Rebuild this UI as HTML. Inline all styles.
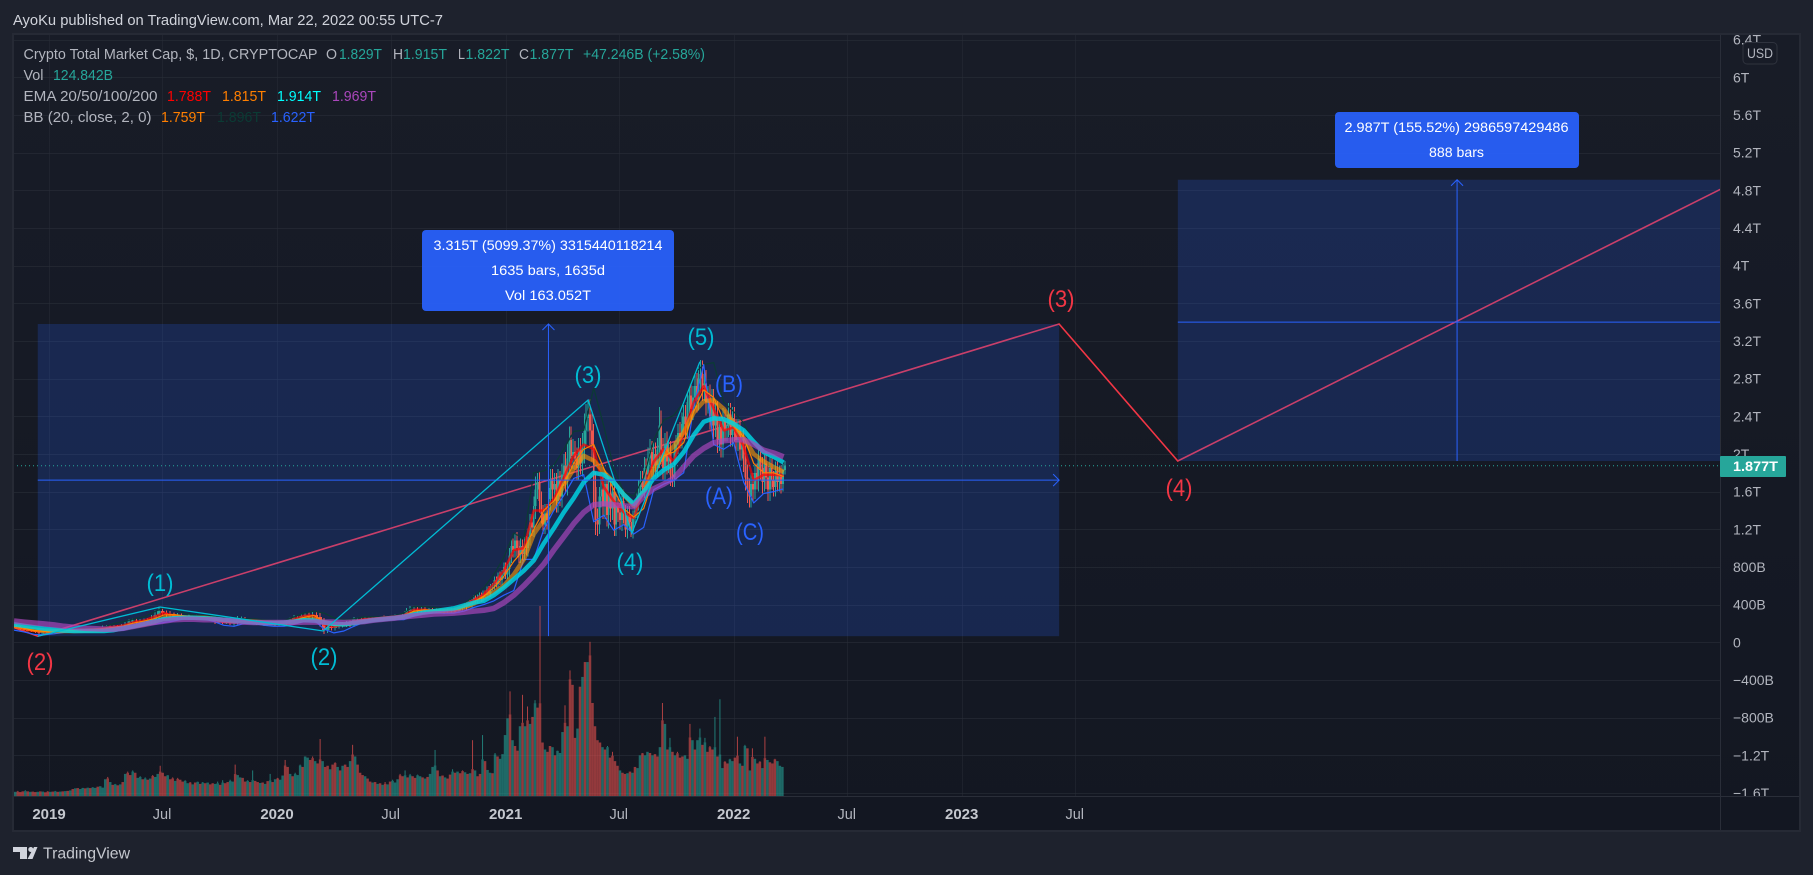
<!DOCTYPE html>
<html lang="en">
<head>
<meta charset="utf-8">
<title>Crypto Total Market Cap chart</title>
<style>
html,body{margin:0;padding:0;width:1813px;height:875px;overflow:hidden;background:#1e222d}
svg{display:block;position:absolute;left:0;top:0}
text{font-family:"Liberation Sans",sans-serif}
</style>
</head>
<body>
<svg id="chart" xmlns="http://www.w3.org/2000/svg" width="1813" height="875" viewBox="0 0 1813 875">
  <defs>
    <linearGradient id="paneBg" x1="0" y1="0" x2="0" y2="1">
      <stop offset="0" stop-color="#181c27"/>
      <stop offset="1" stop-color="#131722"/>
    </linearGradient>
    <clipPath id="paneClip"><rect x="13" y="35" width="1707" height="761"/></clipPath>
    <clipPath id="axisClip"><rect x="1721" y="35" width="78" height="761"/></clipPath>
  </defs>
  <rect x="0" y="0" width="1813" height="875" fill="#1e222d"/>
  <text x="13" y="25" font-size="14.5" fill="#d1d4dc" textLength="430" lengthAdjust="spacingAndGlyphs">AyoKu published on TradingView.com, Mar 22, 2022 00:55 UTC-7</text>
  <rect x="13" y="34" width="1787" height="797" fill="url(#paneBg)"/>
  <g id="gridLayer"></g>
  <g id="underLayer" clip-path="url(#paneClip)"></g>
  <g id="rectLayer" clip-path="url(#paneClip)"></g>
  <g id="volumeLayer" clip-path="url(#paneClip)"></g>
  <g id="candleLayer" clip-path="url(#paneClip)" shape-rendering="crispEdges"></g>
  <g id="lineLayer" clip-path="url(#paneClip)"></g>
  <g id="drawLayer" clip-path="url(#paneClip)"></g>

  <g>
    <rect x="422" y="230" width="252" height="81" rx="4" fill="#2962ff" fill-opacity="0.92"/>
    <text x="548" y="250" font-size="14" fill="#fff" text-anchor="middle" textLength="229" lengthAdjust="spacingAndGlyphs">3.315T (5099.37%) 3315440118214</text>
    <text x="548" y="275" font-size="14" fill="#fff" text-anchor="middle" textLength="114" lengthAdjust="spacingAndGlyphs">1635 bars, 1635d</text>
    <text x="548" y="300" font-size="14" fill="#fff" text-anchor="middle" textLength="86" lengthAdjust="spacingAndGlyphs">Vol 163.052T</text>
  </g>
  <g>
    <rect x="1335" y="112" width="244" height="56" rx="4" fill="#2962ff" fill-opacity="0.92"/>
    <text x="1456.5" y="132" font-size="14" fill="#fff" text-anchor="middle" textLength="224" lengthAdjust="spacingAndGlyphs">2.987T (155.52%) 2986597429486</text>
    <text x="1456.5" y="157" font-size="14" fill="#fff" text-anchor="middle" textLength="55" lengthAdjust="spacingAndGlyphs">888 bars</text>
  </g>

  <g font-size="24" text-anchor="middle">
    <text x="160" y="591" fill="#00bcd4" textLength="27" lengthAdjust="spacingAndGlyphs">(1)</text>
    <text x="324" y="665" fill="#00bcd4" textLength="27" lengthAdjust="spacingAndGlyphs">(2)</text>
    <text x="588" y="383" fill="#00bcd4" textLength="27" lengthAdjust="spacingAndGlyphs">(3)</text>
    <text x="630" y="570" fill="#00bcd4" textLength="27" lengthAdjust="spacingAndGlyphs">(4)</text>
    <text x="701" y="345" fill="#00bcd4" textLength="27" lengthAdjust="spacingAndGlyphs">(5)</text>
    <text x="719" y="504" fill="#2962ff" textLength="28" lengthAdjust="spacingAndGlyphs">(A)</text>
    <text x="729" y="392" fill="#2962ff" textLength="28" lengthAdjust="spacingAndGlyphs">(B)</text>
    <text x="750" y="540" fill="#2962ff" textLength="28" lengthAdjust="spacingAndGlyphs">(C)</text>
    <text x="40" y="670" fill="#f23645" textLength="27" lengthAdjust="spacingAndGlyphs">(2)</text>
    <text x="1061" y="307" fill="#f23645" textLength="27" lengthAdjust="spacingAndGlyphs">(3)</text>
    <text x="1179" y="496" fill="#f23645" textLength="27" lengthAdjust="spacingAndGlyphs">(4)</text>
  </g>

  <g font-size="14.5">
    <text x="23.5" y="59" fill="#b2b5be" textLength="294" lengthAdjust="spacingAndGlyphs">Crypto Total Market Cap, $, 1D, CRYPTOCAP</text>
    <text x="326" y="59" fill="#b2b5be" textLength="11" lengthAdjust="spacingAndGlyphs">O</text>
    <text x="339" y="59" fill="#26a69a" textLength="43" lengthAdjust="spacingAndGlyphs">1.829T</text>
    <text x="393" y="59" fill="#b2b5be" textLength="10" lengthAdjust="spacingAndGlyphs">H</text>
    <text x="403" y="59" fill="#26a69a" textLength="44" lengthAdjust="spacingAndGlyphs">1.915T</text>
    <text x="458" y="59" fill="#b2b5be" textLength="7" lengthAdjust="spacingAndGlyphs">L</text>
    <text x="465.5" y="59" fill="#26a69a" textLength="44" lengthAdjust="spacingAndGlyphs">1.822T</text>
    <text x="519" y="59" fill="#b2b5be" textLength="10" lengthAdjust="spacingAndGlyphs">C</text>
    <text x="529.5" y="59" fill="#26a69a" textLength="44" lengthAdjust="spacingAndGlyphs">1.877T</text>
    <text x="583" y="59" fill="#26a69a" textLength="122" lengthAdjust="spacingAndGlyphs">+47.246B (+2.58%)</text>
    <text x="23.5" y="80" fill="#b2b5be" textLength="20" lengthAdjust="spacingAndGlyphs">Vol</text>
    <text x="53" y="80" fill="#26a69a" textLength="60" lengthAdjust="spacingAndGlyphs">124.842B</text>
    <text x="23.5" y="101" fill="#b2b5be" textLength="134" lengthAdjust="spacingAndGlyphs">EMA 20/50/100/200</text>
    <text x="167" y="101" fill="#ff0000" textLength="44" lengthAdjust="spacingAndGlyphs">1.788T</text>
    <text x="222" y="101" fill="#ff7f00" textLength="44" lengthAdjust="spacingAndGlyphs">1.815T</text>
    <text x="277" y="101" fill="#00ffff" textLength="44" lengthAdjust="spacingAndGlyphs">1.914T</text>
    <text x="332" y="101" fill="#ab47bc" textLength="44" lengthAdjust="spacingAndGlyphs">1.969T</text>
    <text x="23.5" y="122" fill="#b2b5be" textLength="128" lengthAdjust="spacingAndGlyphs">BB (20, close, 2, 0)</text>
    <text x="161" y="122" fill="#ff7f00" textLength="44" lengthAdjust="spacingAndGlyphs">1.759T</text>
    <text x="217" y="122" fill="#0b3b34" textLength="44" lengthAdjust="spacingAndGlyphs">1.896T</text>
    <text x="271" y="122" fill="#2962ff" textLength="44" lengthAdjust="spacingAndGlyphs">1.622T</text>
  </g>

  <line x1="13" y1="465.8" x2="1720" y2="465.8" stroke="#26a69a" stroke-width="1" stroke-dasharray="1 3"/>
  <line x1="1720.5" y1="34" x2="1720.5" y2="831" stroke="#2a2e39" stroke-width="1"/>
  <line x1="13" y1="796.5" x2="1800" y2="796.5" stroke="#2a2e39" stroke-width="1"/>
  <rect x="13" y="34" width="1787" height="797" fill="none" stroke="#262a35" stroke-width="2"/>
  <g id="priceAxis" clip-path="url(#axisClip)"></g>
  <g id="timeAxis"></g>

  <g>
    <rect x="1743" y="42.5" width="34" height="21.5" rx="4" fill="#181c27" stroke="#2f333e"/>
    <text x="1760" y="58" font-size="13.5" fill="#b2b5be" text-anchor="middle" textLength="26" lengthAdjust="spacingAndGlyphs">USD</text>
  </g>
  <g>
    <rect x="1720" y="456" width="66" height="21" rx="1" fill="#26a69a"/>
    <text x="1733" y="471" font-size="14" font-weight="bold" fill="#ffffff" textLength="45" lengthAdjust="spacingAndGlyphs">1.877T</text>
  </g>

  <g>
    <path fill="#d1d4dc" d="M13 847h14v12h-7v-7h-7z"/>
    <circle cx="30.8" cy="849.5" r="2.5" fill="#d1d4dc"/>
    <path fill="#d1d4dc" d="M34 847h3.5l-5 12h-5z"/>
    <text x="43" y="858.5" font-size="16" fill="#c5c8cf" textLength="87" lengthAdjust="spacingAndGlyphs">TradingView</text>
  </g>
</svg>
<script>
// ---- Chart data (prices in trillions USD, volumes in billions USD) ----
const priceTickValues = [6.4,6,5.6,5.2,4.8,4.4,4,3.6,3.2,2.8,2.4,2,1.6,1.2,0.8,0.4,0,-0.4,-0.8,-1.2,-1.6];
const priceTickLabels = ["6.4T","6T","5.6T","5.2T","4.8T","4.4T","4T","3.6T","3.2T","2.8T","2.4T","2T","1.6T","1.2T","800B","400B","0","\u2212400B","\u2212800B","\u22121.2T","\u22121.6T"];
const timeTickDays = [0,181,365,547,731,912,1096,1277,1461,1642];
const timeTickLabels = ["2019","Jul","2020","Jul","2021","Jul","2022","Jul","2023","Jul"];
const timeTickStrong = [1,0,1,0,1,0,1,0,1,0];

const earlyCloses = [
.17,.16,.14,.13,.125,.12,.11,.10,.105,.12,
.115,.12,.125,.12,.125,.13,.125,.13,.13,.135,
.13,.135,.135,.14,.16,.17,.165,.17,.165,.175,
.19,.22,.23,.22,.22,.23,.23,.25,.29,.33,
.31,.30,.29,.27,.28,.27,.26,.27,.26,.27,
.26,.27,.265,.26,.22,.22,.21,.21,.20,.22,
.25,.25,.22,.21,.22,.20,.20,.19,.20,.20,
.19,.20,.20,.22,.24,.26,.26,.28,.29,.28,
.29,.27,.22,.13,.16,.15,.17,.18,.19,.20,
.19,.24,.24,.24,.25,.25,.25,.26,.26,.25,
.26,.26,.27,.27,.28,.33,.35,.35,.34,.35,
.34,.34,.33,.34,.33,.33,.34,.35,.34,.36];
const lateCloses = [
.36,.38,.40,.38,.42,.40,.43,.47,.44,.48,
.50,.46,.52,.50,.56,.52,.58,.60,.66,.62,
.70,.66,.72,.80,.72,.78,.92,1.02,.98,1.08,
1.0,.92,1.02,.94,1.05,1.0,1.12,1.27,1.22,1.45,
1.62,1.70,1.5,1.36,1.25,1.37,1.30,1.52,1.72,1.62,
1.68,1.50,1.72,1.55,1.78,1.88,1.72,1.95,2.15,1.98,
2.02,1.95,1.85,2.05,1.90,2.08,2.25,2.38,2.42,2.25,
2.10,1.65,1.30,1.25,1.55,1.62,1.45,1.68,1.35,1.58,
1.42,1.60,1.25,1.45,1.38,1.30,1.50,1.38,1.20,1.35,
1.28,1.18,1.32,1.40,1.50,1.62,1.72,1.65,1.85,1.78,
1.95,2.02,1.85,2.00,1.88,2.05,2.30,2.05,1.85,2.10,
1.92,2.02,1.78,1.75,2.02,2.10,2.22,2.18,2.32,2.40,
2.28,2.55,2.62,2.48,2.60,2.72,2.58,2.80,2.85,2.70,
2.75,2.55,2.60,2.40,2.55,2.30,2.42,2.15,2.28,2.10,
2.35,2.25,2.30,2.42,2.20,2.38,2.25,2.15,2.25,2.05,
2.12,1.95,1.75,1.62,1.55,1.68,1.62,1.80,1.72,1.95,
1.85,1.70,1.90,1.75,1.62,1.85,1.72,1.65,1.82,1.70,
1.78,1.68,1.83,1.877];
const earlyWicks = [
.012,.012,.012,.012,.012,.012,.012,.012,.012,.012,
.012,.012,.012,.012,.012,.012,.012,.012,.012,.012,
.012,.012,.012,.012,.02,.015,.015,.015,.015,.02,
.025,.03,.025,.03,.025,.025,.03,.04,.05,.05,
.03,.03,.03,.025,.03,.025,.015,.025,.015,.025,
.015,.015,.015,.015,.025,.015,.015,.015,.015,.02,
.03,.025,.02,.015,.015,.015,.015,.015,.015,.015,
.015,.015,.015,.02,.025,.03,.025,.025,.025,.025,
.03,.03,.05,.04,.03,.025,.025,.025,.025,.025,
.03,.03,.025,.025,.025,.015,.025,.015,.015,.025,
.015,.025,.025,.025,.03,.035,.035,.03,.03,.03,
.025,.025,.025,.025,.025,.03,.025,.03,.025,.03];
const lateWicks = [
.02,.02,.02,.03,.02,.03,.03,.03,.03,.03,
.03,.03,.03,.03,.03,.04,.04,.03,.04,.04,
.04,.05,.05,.05,.05,.05,.08,.08,.08,.08,
.09,.08,.08,.07,.07,.08,.09,.09,.09,.10,
.14,.10,.12,.10,.10,.10,.10,.12,.12,.12,
.12,.12,.12,.10,.12,.12,.14,.16,.14,.14,
.14,.12,.12,.12,.12,.14,.18,.15,.14,.16,
.18,.22,.16,.12,.10,.12,.14,.14,.12,.14,
.14,.12,.12,.12,.10,.10,.12,.12,.08,.10,
.10,.06,.08,.08,.08,.10,.10,.10,.12,.10,
.12,.14,.12,.12,.12,.12,.20,.16,.12,.12,
.14,.12,.12,.10,.10,.10,.10,.12,.12,.12,
.12,.12,.12,.12,.12,.12,.14,.12,.15,.14,
.14,.14,.12,.14,.14,.14,.12,.14,.12,.14,
.14,.12,.12,.12,.12,.12,.12,.12,.12,.12,
.12,.14,.14,.14,.12,.12,.12,.10,.10,.12,
.12,.12,.10,.12,.12,.12,.10,.10,.10,.10,
.10,.10,.08,.05];

const volumeValues = [
20,18,22,17,20,25,20,18,19,17,
18,20,19,16,21,18,19,22,18,19,
20,21,22,24,30,33,34,30,35,33,
36,34,38,35,40,42,36,72,82,60,
48,52,46,50,60,95,105,90,110,100,
78,85,72,80,70,75,90,82,95,130,
100,85,90,72,80,65,78,70,62,68,
55,60,50,58,62,52,60,55,58,50,
55,52,62,48,68,55,60,70,62,135,
90,80,78,62,68,60,110,65,60,56,
58,52,64,95,60,72,78,70,88,155,
125,95,85,100,90,135,125,170,165,155,
170,150,140,245,150,125,130,115,135,145,
125,110,130,135,125,150,220,170,135,100,
90,85,75,62,58,60,52,55,48,60,
50,62,70,58,72,95,85,110,80,95,
85,78,92,85,80,75,82,95,125,198,
110,85,88,80,75,92,115,100,105,98,
110,102,95,98,240,110,85,95,262,150,
112,100,98,185,170,160,180,262,334,450,
240,215,195,300,435,300,385,310,340,412,
380,817,230,200,190,215,210,175,195,185,
275,390,300,540,478,250,290,470,512,576,
576,663,400,300,240,230,210,200,215,165,
190,150,130,110,100,95,98,105,100,125,
120,175,185,175,190,185,175,180,170,210,
400,310,200,250,190,175,190,165,170,175,
160,310,240,200,240,290,220,250,190,215,
200,340,170,416,120,150,140,160,150,165,
255,140,130,220,205,110,205,160,140,150,
120,255,155,145,140,160,150,130,125];
const volumeDirections =
"dudddududd"+"ududdududu"+"dudududuud"+"uduuduuudu"+"dudududdud"+"uudududuud"+"dduddudddu"+"ududududud"+"duududduud"+"uuddududdu"+
"dudududuud"+"duduuuduud"+"dudduddudd"+"ududdududd"+"duddududud"+"uduuuddudu"+"dduududuuu"+"dududdudud"+"dudududdud"+"uududuuuud"+
"uddudududu"+"dddudduduu"+"ududddudud"+"udddddudud"+"ddduddudud"+"uuduududdu"+"dudududddu"+"ududuududd"+"duduudduud"+"dududududd"+"ududdduuu";

const ema20 = [
.17,.14,.12,.115,.12,.125,.13,.13,.135,.15,
.165,.18,.215,.23,.27,.31,.285,.27,.265,.265,
.24,.215,.215,.235,.215,.20,.195,.205,.245,.28,
.285,.19,.165,.19,.22,.245,.25,.255,.265,.285,
.345,.345,.335,.335,.345,.39,.45,.51,.62,.76,
.98,1.0,1.4,1.4,1.52,1.75,1.98,2.1,2.05,1.65,
1.5,1.38,1.32,1.62,1.92,2.05,1.92,2.22,2.55,2.72,
2.48,2.25,2.28,2.08,1.72,1.78,1.78,1.77];
const ema50 = [
.175,.155,.135,.125,.12,.12,.12,.122,.125,.13,
.14,.155,.17,.19,.215,.255,.265,.265,.26,.26,
.25,.235,.225,.225,.22,.21,.205,.205,.215,.24,
.245,.215,.195,.19,.205,.225,.24,.25,.26,.27,
.31,.325,.33,.335,.34,.37,.41,.47,.53,.60,
.72,.88,1.15,1.3,1.45,1.67,1.84,1.98,1.93,1.81,
1.70,1.57,1.45,1.60,1.84,1.98,2.08,2.23,2.44,2.56,
2.57,2.48,2.32,2.17,2.0,1.92,1.86,1.81];
const ema100 = [
.19,.175,.16,.145,.135,.125,.12,.12,.12,.12,
.13,.15,.17,.195,.22,.245,.255,.26,.26,.255,
.25,.24,.23,.22,.21,.205,.205,.21,.22,.235,
.23,.21,.195,.19,.205,.22,.235,.245,.255,.27,
.295,.315,.33,.345,.36,.39,.42,.44,.50,.58,
.67,.76,.87,1.05,1.21,1.38,1.53,1.70,1.80,1.78,
1.70,1.57,1.47,1.60,1.74,1.83,1.89,2.02,2.2,2.34,
2.38,2.37,2.32,2.25,2.13,2.02,1.97,1.91];
const ema200 = [
.226,.215,.205,.195,.185,.17,.16,.15,.145,.14,
.14,.15,.17,.19,.21,.225,.24,.245,.245,.24,
.24,.235,.225,.215,.21,.21,.21,.21,.21,.215,
.215,.215,.215,.21,.215,.22,.235,.245,.255,.27,
.28,.29,.30,.305,.31,.32,.33,.34,.36,.42,
.50,.60,.71,.83,.98,1.12,1.26,1.38,1.46,1.47,
1.46,1.45,1.44,1.55,1.63,1.68,1.74,1.86,1.98,2.06,
2.12,2.14,2.15,2.15,2.10,2.04,2.01,1.97];
const bbBasis = [
.17,.15,.125,.115,.115,.125,.13,.13,.13,.14,
.16,.175,.205,.225,.25,.29,.295,.28,.27,.265,
.25,.225,.215,.225,.225,.21,.2,.2,.23,.265,
.285,.225,.18,.18,.21,.235,.25,.255,.26,.275,
.33,.345,.34,.335,.34,.37,.43,.49,.58,.70,
.86,.98,1.2,1.4,1.5,1.68,1.9,2.05,2.1,1.85,
1.62,1.42,1.33,1.42,1.75,1.98,2.02,2.12,2.45,2.68,
2.6,2.35,2.3,2.18,1.9,1.8,1.8,1.76];
const bbUpper = [
.21,.19,.16,.14,.14,.14,.14,.14,.145,.16,
.20,.22,.25,.27,.32,.37,.36,.31,.29,.28,
.28,.27,.26,.25,.25,.24,.23,.23,.27,.31,
.33,.31,.26,.24,.25,.27,.27,.27,.28,.31,
.38,.38,.37,.36,.37,.41,.49,.58,.72,.90,
1.16,1.10,1.80,1.82,1.88,2.05,2.24,2.25,2.70,2.30,
1.85,1.60,1.55,1.75,2.15,2.36,2.41,2.55,2.85,2.95,
2.97,2.55,2.45,2.33,2.1,2.0,1.97,1.90];
const bbLower = [
.13,.11,.085,.08,.09,.105,.115,.12,.12,.12,
.125,.13,.16,.18,.19,.21,.225,.25,.25,.25,
.22,.18,.17,.20,.20,.18,.17,.17,.19,.22,
.24,.14,.10,.12,.17,.21,.23,.24,.24,.24,
.28,.31,.31,.31,.31,.33,.37,.40,.44,.50,
.55,.88,.88,1.2,1.40,1.56,1.74,1.78,1.28,1.35,
1.19,1.25,1.15,1.22,1.62,1.68,1.72,1.8,2.5,2.95,
2.1,2.05,2.12,1.7,1.48,1.58,1.6,1.63];

// Elliott wave drawings: day offset from 2019-01-01 and price in trillions
const cyanWaveDays = [-18,178,439,863,933,1042];
const cyanWavePrices = [.065,.375,.12,2.573,1.16,2.98];
const redWaveDays = [-58,-18,1617,1807,2695];
const redWavePrices = [.16,.065,3.38,1.925,4.875];
const measureStartDays = [-18,1807];
const measureEndDays = [1617,2695];
const measureLowPrices = [.065,1.925];
const measureHighPrices = [3.38,4.912];
const measureMidDays = [799.5,2254];
const measureMidPrices = [1.7225,3.4];

// ---- Axis functions ----
const xOf = d => 49 + d * 0.6247;
const yOf = p => 642.3 - p * 94.17;
const yVol = v => 796 - v / 4.3;
const ns = "http://www.w3.org/2000/svg";
function make(parent, tag, attrs) {
  const el = document.createElementNS(ns, tag);
  for (const k in attrs) el.setAttribute(k, attrs[k]);
  parent.appendChild(el);
  return el;
}
const gridLayer = document.getElementById('gridLayer');
const underLayer = document.getElementById('underLayer');
const rectLayer = document.getElementById('rectLayer');
const volumeLayer = document.getElementById('volumeLayer');
const candleLayer = document.getElementById('candleLayer');
const lineLayer = document.getElementById('lineLayer');
const drawLayer = document.getElementById('drawLayer');
const priceAxis = document.getElementById('priceAxis');
const timeAxis = document.getElementById('timeAxis');

// Grid and axis labels
priceTickValues.forEach((v, i) => {
  const y = Math.round(yOf(v)) + 0.5;
  if (y > 35 && y < 796) {
    const g = make(gridLayer, 'line', {x1:13, x2:1720, y1:y, y2:y, stroke:'#2a2e39', 'stroke-opacity':0.6});
    
    
  }
  const t = make(priceAxis, 'text', {x:1733, y:yOf(v)+5, 'font-size':14, fill:'#b2b5be'});
  
  
  t.textContent = priceTickLabels[i];
});
timeTickDays.forEach((d, i) => {
  const x = Math.round(xOf(d)) + 0.5;
  const g = make(gridLayer, 'line', {x1:x, x2:x, y1:35, y2:796, stroke:'#2a2e39', 'stroke-opacity':0.45});
  
  
  const strong = timeTickStrong[i] === 1;
  const t = make(timeAxis, 'text', {x:xOf(d), y:819, 'font-size':strong ? 15 : 14.5, fill:strong ? '#c5c8cf' : '#b2b5be', 'text-anchor':'middle', 'font-weight':strong ? 'bold' : 'normal'});
  
  
  t.textContent = timeTickLabels[i];
});

// Forecast zigzag sits under the translucent measure rectangles
const polyPoints = (days, prices) => days.map((d, i) => xOf(d).toFixed(1) + ',' + yOf(prices[i]).toFixed(1)).join(' ');
const redLine = make(underLayer, 'polyline', {points:polyPoints(redWaveDays, redWavePrices), fill:'none', stroke:'#f23645', 'stroke-width':1.6});



// Measure rectangles with centre arrows
measureStartDays.forEach((d0, i) => {
  const d1 = measureEndDays[i], lo = measureLowPrices[i], hi = measureHighPrices[i];
  const r = make(rectLayer, 'rect', {x:xOf(d0), y:yOf(hi), width:xOf(d1)-xOf(d0), height:yOf(lo)-yOf(hi), fill:'#2962ff', 'fill-opacity':0.2});
  
  
  const xm = xOf(measureMidDays[i]), ym = yOf(measureMidPrices[i]);
  const h = make(drawLayer, 'line', {x1:xOf(d0), x2:xOf(d1), y1:ym, y2:ym, stroke:'#2962ff', 'stroke-width':1});
  
  
  const v = make(drawLayer, 'line', {x1:xm, x2:xm, y1:yOf(lo), y2:yOf(hi), stroke:'#2962ff', 'stroke-width':1});
  
  
  const a = make(drawLayer, 'polyline', {points:(xm-6)+','+(yOf(hi)+6)+' '+xm+','+yOf(hi)+' '+(xm+6)+','+(yOf(hi)+6), fill:'none', stroke:'#2962ff', 'stroke-width':1});
  
  
  const b = make(drawLayer, 'polyline', {points:(xOf(d1)-6)+','+(ym-6)+' '+xOf(d1)+','+ym+' '+(xOf(d1)-6)+','+(ym+6), fill:'none', stroke:'#2962ff', 'stroke-width':1});
  
  
});

// Volume bars, one per four trading days: a solid body plus a thin spike where the value towers over its neighbours
volumeValues.forEach((v, i) => {
  const day = -58 + 4 * i;
  const up = volumeDirections[i] === 'u';
  const col = up ? '#26a69a' : '#ef5350';
  const prev = i > 0 ? volumeValues[i-1] : v;
  const next = i < volumeValues.length - 1 ? volumeValues[i+1] : v;
  const body = Math.min(v, Math.max(prev, next) * 1.05);
  const yBody = yVol(body);
  const r = make(volumeLayer, 'rect', {x:xOf(day)-1.25, y:yBody, width:2.5, height:796-yBody, fill:col, 'fill-opacity':0.58});
  
  
  if (v > body) {
    const s = make(volumeLayer, 'rect', {x:xOf(day)-0.5, y:yVol(v), width:1, height:yBody-yVol(v), fill:col, 'fill-opacity':0.7});
    
    
  }
});

// Candles: early history every six days, recent history every three days
function drawCandle(day, open, close, wick, w) {
  const up = close >= open;
  const col = up ? '#26a69a' : '#f0574f';
  const x = xOf(day);
  const hi = Math.max(open, close) + wick, lo = Math.min(open, close) - wick;
  const l = make(candleLayer, 'line', {x1:x, x2:x, y1:yOf(hi), y2:yOf(lo), stroke:col, 'stroke-width':1});
  
  
  const top = yOf(Math.max(open, close));
  const r = make(candleLayer, 'rect', {x:x-w/2, y:top, width:w, height:Math.max(1, yOf(Math.min(open, close))-top), fill:col});
  
  
}
let prevClose = earlyCloses[0];
earlyCloses.forEach((c, i) => {
  drawCandle(-58 + 6 * i, prevClose, c, earlyWicks[i], 3.4);
  prevClose = c;
});
lateCloses.forEach((c, i) => {
  drawCandle(659 + 3 * i, prevClose, c, lateWicks[i], 1.9);
  prevClose = c;
});

// Indicator lines sampled every sixteen days
const sampleDay = k => -56 + 16 * k;
function linePoints(values) {
  return values.map((p, k) => xOf(sampleDay(k)).toFixed(1) + ',' + yOf(p).toFixed(1)).join(' ');
}
const upperLine = make(lineLayer, 'polyline', {points:linePoints(bbUpper), fill:'none', stroke:'#0b3b34', 'stroke-width':1.2, 'stroke-linejoin':'round'});


const lowerLine = make(lineLayer, 'polyline', {points:linePoints(bbLower), fill:'none', stroke:'#2962ff', 'stroke-width':1.2, 'stroke-linejoin':'round'});


const line20 = make(lineLayer, 'polyline', {points:linePoints(ema20), fill:'none', stroke:'#ff0000', 'stroke-width':2.5, 'stroke-linejoin':'round', 'stroke-opacity':0.7});


const basisLine = make(lineLayer, 'polyline', {points:linePoints(bbBasis), fill:'none', stroke:'#ff7f00', 'stroke-width':1.2, 'stroke-linejoin':'round'});


const line50 = make(lineLayer, 'polyline', {points:linePoints(ema50), fill:'none', stroke:'#ff9800', 'stroke-width':4.5, 'stroke-linejoin':'round', 'stroke-opacity':0.6});


const line100 = make(lineLayer, 'polyline', {points:linePoints(ema100), fill:'none', stroke:'#00d0e0', 'stroke-width':4.5, 'stroke-linejoin':'round', 'stroke-opacity':0.85});


const line200 = make(lineLayer, 'polyline', {points:linePoints(ema200), fill:'none', stroke:'#ab47bc', 'stroke-width':5.5, 'stroke-linejoin':'round', 'stroke-opacity':0.68});



const cyanLine = make(drawLayer, 'polyline', {points:polyPoints(cyanWaveDays, cyanWavePrices), fill:'none', stroke:'#00bcd4', 'stroke-width':1.3});


</script>
</body>
</html>
